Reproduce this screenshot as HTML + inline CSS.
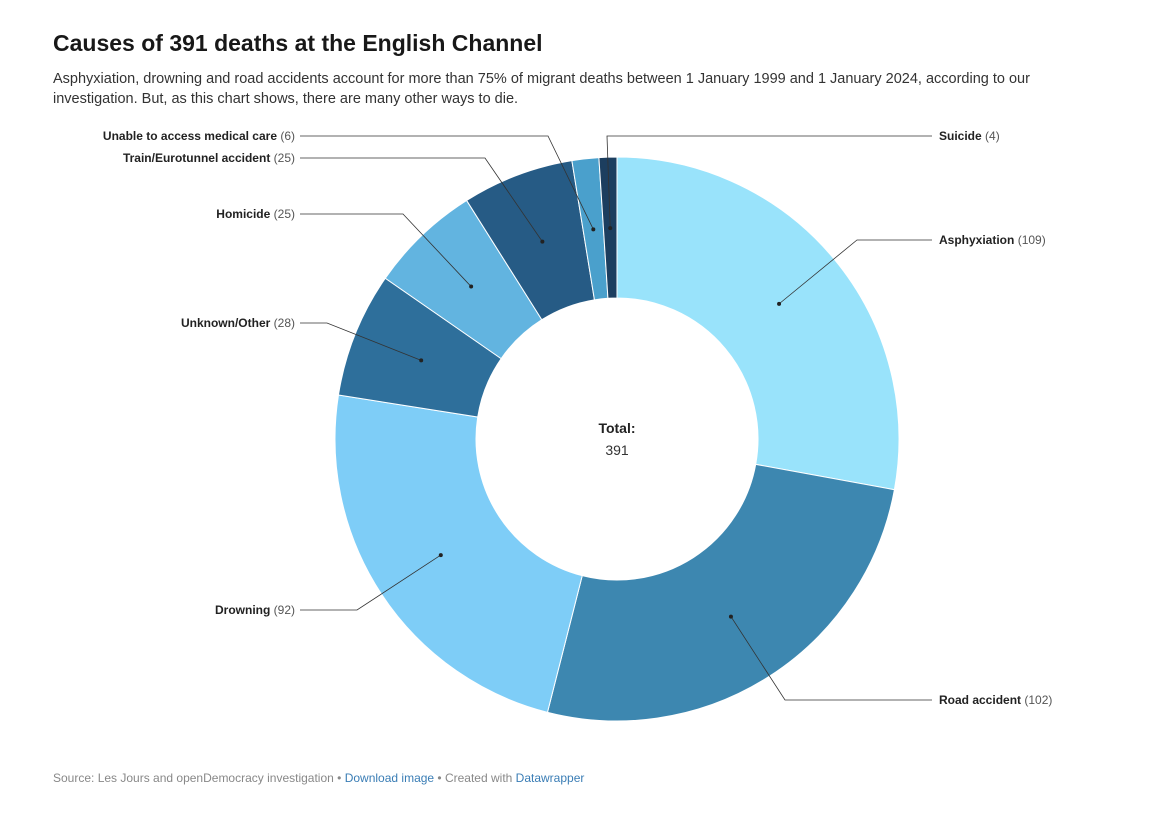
<!DOCTYPE html>
<html><head><meta charset="utf-8">
<style>
body{margin:0;background:#fff;font-family:"Liberation Sans",Arial,sans-serif;width:1171px;height:816px;overflow:hidden;position:relative}
h1{position:absolute;left:53px;top:30px;margin:0;font-size:23px;font-weight:bold;color:#181818}
.desc{position:absolute;left:53px;top:69px;width:1060px;font-size:14.5px;line-height:20px;color:#333}
.foot{position:absolute;left:53px;top:771px;font-size:12px;color:#888}
.foot a{color:#3a7db5;text-decoration:none}
</style></head><body>
<h1>Causes of 391 deaths at the English Channel</h1>
<div class="desc">Asphyxiation, drowning and road accidents account for more than 75% of migrant deaths between 1 January 1999 and 1 January 2024, according to our investigation. But, as this chart shows, there are many other ways to die.</div>
<svg id="chart" width="1171" height="816" style="position:absolute;left:0;top:0"></svg>
<div class="foot">Source: Les Jours and openDemocracy investigation • <a href="#">Download image</a> • Created with <a href="#">Datawrapper</a></div>
<script>
const categories=["Asphyxiation","Road accident","Drowning","Unknown/Other","Homicide","Train/Eurotunnel accident","Unable to access medical care","Suicide"];
const values=[109,102,92,28,25,25,6,4];
const colors=["#99e3fb","#3d87b0","#7ecdf7","#2e6f9b","#62b4e0","#265b85","#4aa0cc","#1c3e5f"];
const labelY=[240,700,610,323,214,158,136,136];
const labelSide=["r","r","l","l","l","l","l","r"];
const elbowX=[857,785,357,327,403,485,548,607];
const NS="http://www.w3.org/2000/svg";
const svg=document.getElementById('chart');
const cx=617,cy=439,R=282,r=141;
const total=values.reduce((a,b)=>a+b,0);
function pt(a,rad){return [cx+rad*Math.sin(a),cy-rad*Math.cos(a)];}
let acc=0;
values.forEach((v,i)=>{
  const a0=acc/total*2*Math.PI, a1=(acc+v)/total*2*Math.PI; acc+=v;
  const large=(a1-a0)>Math.PI?1:0;
  const [x0,y0]=pt(a0,R),[x1,y1]=pt(a1,R),[x2,y2]=pt(a1,r),[x3,y3]=pt(a0,r);
  const p=document.createElementNS(NS,'path');
  p.setAttribute('d',`M${x0},${y0}A${R},${R} 0 ${large} 1 ${x1},${y1}L${x2},${y2}A${r},${r} 0 ${large} 0 ${x3},${y3}Z`);
  p.setAttribute('fill',colors[i]);p.setAttribute('stroke','#fff');p.setAttribute('stroke-width','1');
  
  
  svg.appendChild(p);
  const am=(a0+a1)/2; const [dx,dy]=pt(am,211);
  const side=labelSide[i], ly=labelY[i];
  const ex = elbowX[i];
  const endX = side==='r'?932:300;
  const ln=document.createElementNS(NS,'polyline');
  ln.setAttribute('points',`${dx},${dy} ${ex},${ly} ${endX},${ly}`);
  ln.setAttribute('fill','none');ln.setAttribute('stroke','#333');ln.setAttribute('stroke-width','0.8');
  
  
  svg.appendChild(ln);
  const c=document.createElementNS(NS,'circle');
  c.setAttribute('cx',dx);c.setAttribute('cy',dy);c.setAttribute('r',2);c.setAttribute('fill','#222');
  
  
  svg.appendChild(c);
  const t=document.createElementNS(NS,'text');
  t.setAttribute('x',side==='r'?939:295);t.setAttribute('y',ly+4);
  t.setAttribute('text-anchor',side==='r'?'start':'end');
  t.setAttribute('font-size','12');t.setAttribute('fill','#222');
  t.innerHTML=`<tspan font-weight="bold">${categories[i]}</tspan><tspan fill="#555"> (${v})</tspan>`;
  
  
  svg.appendChild(t);
});
const t1=document.createElementNS(NS,'text');
t1.setAttribute('x',cx);t1.setAttribute('y',433);t1.setAttribute('text-anchor','middle');t1.setAttribute('font-size','14');t1.setAttribute('font-weight','bold');t1.setAttribute('fill','#222');t1.textContent='Total:';


svg.appendChild(t1);
const t2=document.createElementNS(NS,'text');
t2.setAttribute('x',cx);t2.setAttribute('y',455);t2.setAttribute('text-anchor','middle');t2.setAttribute('font-size','14');t2.setAttribute('fill','#333');t2.textContent=total;


svg.appendChild(t2);
</script>
</body></html>
